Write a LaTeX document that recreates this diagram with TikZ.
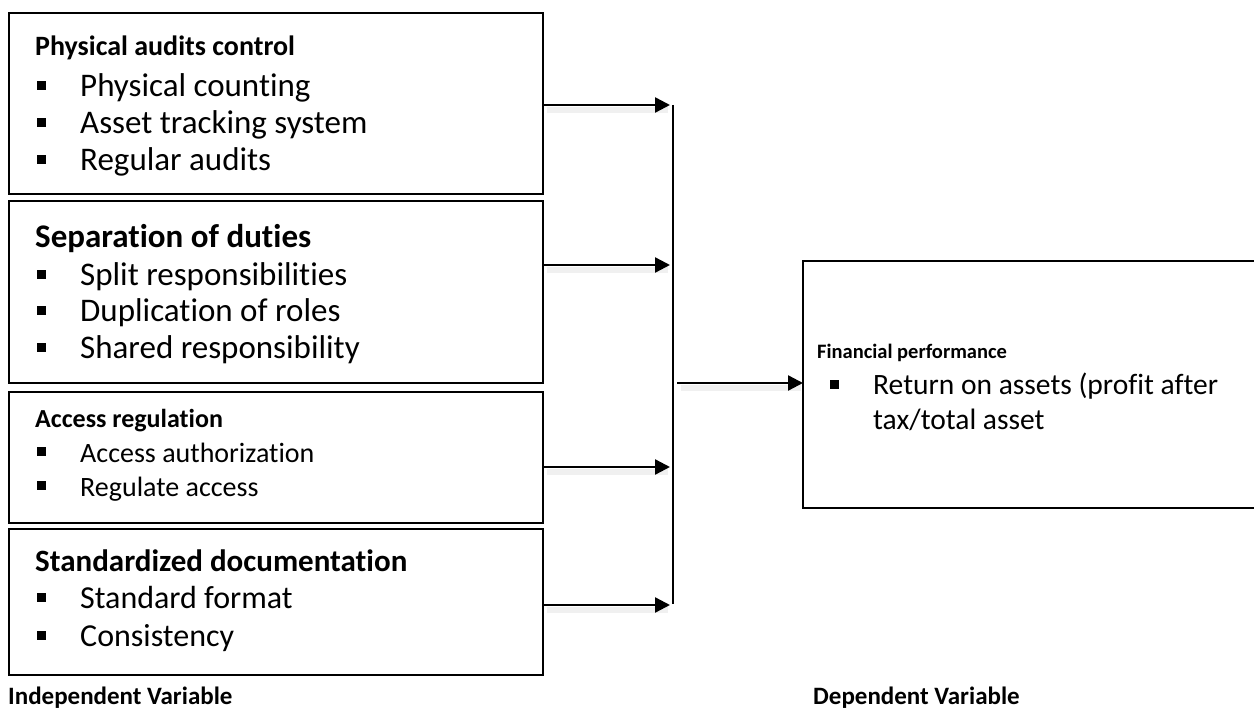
\documentclass[tikz,border=0pt]{standalone}
\usepackage{fontspec}
\setmainfont{Carlito}[Ligatures={NoCommon,NoContextual}]
\usetikzlibrary{arrows.meta,positioning}

\tikzset{
	varbox/.style={draw, line width=2pt, anchor=north west, inner sep=0pt, outer sep=0pt},
	vartitle/.style={anchor=base west, inner sep=0pt, font={\fontsize{#1}{#1}\selectfont\bfseries}},
	varitem/.style={anchor=base west, inner sep=0pt, font={\fontsize{#1}{#1}\selectfont}},
	feed/.style={line width=2.4pt, -{Triangle[length=15pt,width=15pt]}},
	feedshade/.style={line width=6pt, draw=black!6, shorten >=4pt, shorten <=2pt},
}
% square bullet in front of an item node
\newcommand{\sqmark}[2]{\fill ([shift={(-43pt,0.2*#2pt)}]#1.base west) rectangle ++(9pt,9pt);}

\begin{document}
\begin{tikzpicture}[x=1pt,y=-1pt]
			%%%%% START %%%%%
			\useasboundingbox (0,0) rectangle (1254,711);
			
			% independent variables
			\node[varbox, minimum width=534pt, minimum height=181pt] (pac) at (9,13) {};
			\node[varbox, minimum width=534pt, minimum height=182pt] (sod) at (9,201) {};
			\node[varbox, minimum width=534pt, minimum height=131pt] (acr) at (9,392) {};
			\node[varbox, minimum width=534pt, minimum height=146pt] (sdc) at (9,529) {};
			
			\node[vartitle=28] (pact) at (35,56) {Physical audits control};
			\node[varitem=33] (pac1) at (80,97) {Physical counting}; \sqmark{pac1}{33}
			\node[varitem=33] (pac2) at (80,134) {Asset tracking system}; \sqmark{pac2}{33}
			\node[varitem=33] (pac3) at (80,171) {Regular audits}; \sqmark{pac3}{33}
			
			\node[vartitle=33] (sodt) at (35,248) {Separation of duties};
			\node[varitem=33] (sod1) at (80,286) {Split responsibilities}; \sqmark{sod1}{33}
			\node[varitem=33] (sod2) at (80,322) {Duplication of roles}; \sqmark{sod2}{33}
			\node[varitem=33] (sod3) at (80,359) {Shared responsibility}; \sqmark{sod3}{33}
			
			\node[vartitle=26] (acrt) at (35,428) {Access regulation};
			\node[varitem=28] (acr1) at (80,462) {Access authorization}; \sqmark{acr1}{28}
			\node[varitem=28] (acr2) at (80,496) {Regulate access}; \sqmark{acr2}{28}
			
			\node[vartitle=31] (sdct) at (35,571) {Standardized documentation};
			\node[varitem=32] (sdc1) at (80,608) {Standard format}; \sqmark{sdc1}{32}
			\node[varitem=32] (sdc2) at (80,646) {Consistency}; \sqmark{sdc2}{32}
			
			% dependent variable
			\node[varbox, minimum width=460pt, minimum height=247pt] (fin) at (803,261) {};
			\node[vartitle=20.5] (fint) at (817,359) {Financial performance};
			\node[varitem=29.5] (fin1) at (873,395) {Return on assets (profit after}; \sqmark{fin1}{29.5}
			\node[varitem=29.5] (fin2) at (873,430) {tax/total asset};
			
			% connectors
			\coordinate (j1) at (670,105);
			\coordinate (j2) at (670,265);
			\coordinate (j3) at (670,467);
			\coordinate (j4) at (670,605);
			\coordinate (hubtop) at (673,105);
			\coordinate (hubbot) at (673,604);
			\coordinate (hubout) at (677,383);
			
			\draw[feedshade] ([shift={(2pt,-5pt)}]pac.east |- j1) -- ([shift={(2pt,-5pt)}]j1);
			\draw[feedshade] ([shift={(2pt,-5pt)}]sod.east |- j2) -- ([shift={(2pt,-5pt)}]j2);
			\draw[feedshade] ([shift={(2pt,-5pt)}]acr.east |- j3) -- ([shift={(2pt,-5pt)}]j3);
			\draw[feedshade] ([shift={(2pt,-5pt)}]sdc.east |- j4) -- ([shift={(2pt,-5pt)}]j4);
			\draw[feedshade] ([shift={(2pt,-5pt)}]hubout) -- ([shift={(2pt,-5pt)}]fin.west |- hubout);
			
			\draw[feed] (pac.east |- j1) -- (j1);
			\draw[feed] (sod.east |- j2) -- (j2);
			\draw[feed] (acr.east |- j3) -- (j3);
			\draw[feed] (sdc.east |- j4) -- (j4);
			\draw[line width=1.3pt] (hubtop) -- (hubbot);
			\draw[feed] (hubout) -- (fin.west |- hubout);
			
			% captions
			\node[vartitle=25] (ivar) at (8,704) {Independent Variable};
			\node[vartitle=25] (dvar) at (813,704) {Dependent Variable};
			
			%%%%% END %%%%%
\end{tikzpicture}
\end{document}
